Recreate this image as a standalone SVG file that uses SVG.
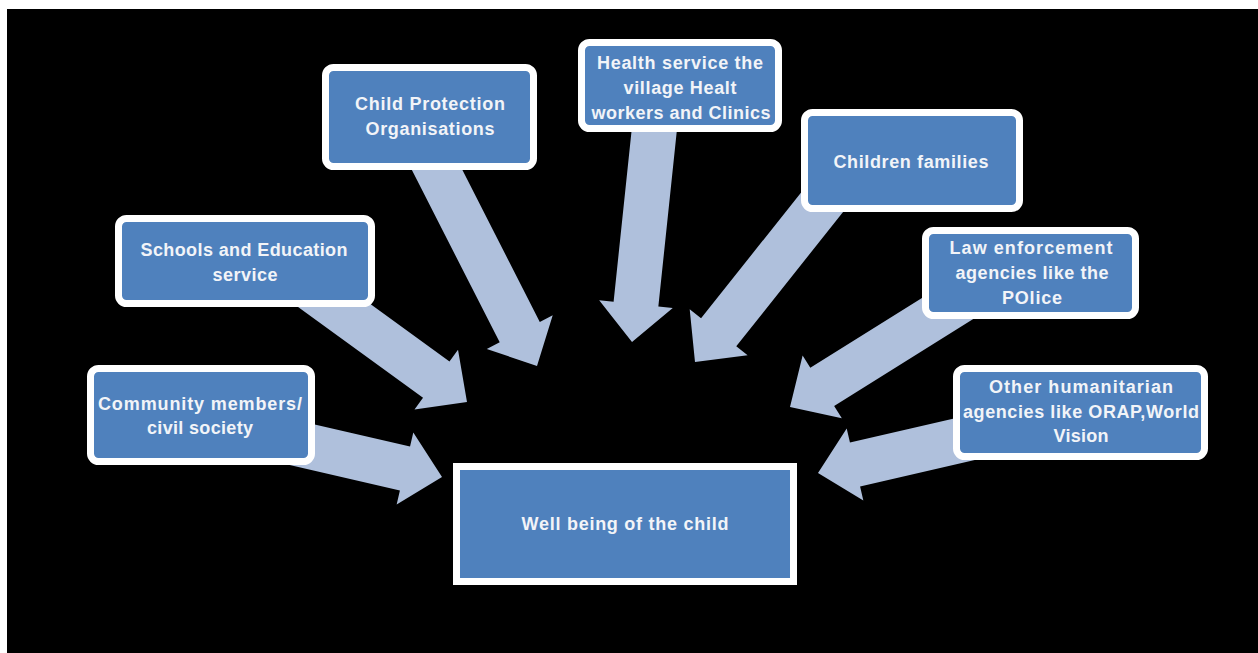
<svg xmlns="http://www.w3.org/2000/svg" xmlns:xlink="http://www.w3.org/1999/xlink" width="1258" height="653" viewBox="0 0 1258 653">
<style>
.box{fill:#4F81BD;stroke:#FFFFFF;stroke-width:7}
.t{font-family:"Liberation Sans",Arial,sans-serif;font-weight:bold;font-size:18px;fill:#F2F4F8;text-anchor:middle}
.arrow{fill:#AFC0DC}
</style>
<defs>
<polygon id="arr" points="-260,-22.5 -38,-22.5 -38,-37 0,0 -38,37 -38,22.5 -260,22.5"/>
</defs>
<rect x="0" y="0" width="1258" height="653" fill="#FFFFFF"/>
<rect x="7" y="9" width="1251" height="644" fill="#000000"/>
<g id="connectors" class="arrow">
<use href="#arr" transform="translate(442,477) rotate(13)"/>
<use href="#arr" transform="translate(467,402) rotate(36)"/>
<use href="#arr" transform="translate(537,366) rotate(63)"/>
<use href="#arr" transform="translate(632,342) rotate(96)"/>
<use href="#arr" transform="translate(695,362) rotate(128.5)"/>
<use href="#arr" transform="translate(790,407) rotate(148)"/>
<use href="#arr" transform="translate(818,473) rotate(167)"/>
</g>
<g id="community">
<rect class="box" x="90.5" y="368.5" width="221" height="93" rx="8"/>
<text class="t" x="200" y="410" textLength="204">Community members/</text>
<text class="t" x="200" y="434" textLength="106">civil society</text>
</g>
<g id="schools">
<rect class="box" x="118.5" y="218.5" width="253" height="85" rx="8"/>
<text class="t" x="244" y="256" textLength="207">Schools and Education</text>
<text class="t" x="245" y="281" textLength="65">service</text>
</g>
<g id="child-protection">
<rect class="box" x="325.5" y="67.5" width="208" height="99" rx="8"/>
<text class="t" x="430" y="110" textLength="150">Child Protection</text>
<text class="t" x="430" y="135" textLength="129">Organisations</text>
</g>
<g id="health">
<rect class="box" x="581.5" y="42.5" width="197" height="86" rx="8"/>
<text class="t" x="680" y="69" textLength="166">Health service the</text>
<text class="t" x="680" y="94" textLength="113">village Healt</text>
<text class="t" x="681" y="119" textLength="179">workers and Clinics</text>
</g>
<g id="children-families">
<rect class="box" x="804.5" y="112.5" width="215" height="96" rx="8"/>
<text class="t" x="911" y="168" textLength="155">Children families</text>
</g>
<g id="law">
<rect class="box" x="925.5" y="230.5" width="210" height="85" rx="8"/>
<text class="t" x="1031" y="254" textLength="163">Law enforcement</text>
<text class="t" x="1032" y="279" textLength="153">agencies like the</text>
<text class="t" x="1032" y="304" textLength="60">POlice</text>
</g>
<g id="other">
<rect class="box" x="956.5" y="368.5" width="248" height="88" rx="8"/>
<text class="t" x="1081" y="393" textLength="184">Other humanitarian</text>
<text class="t" x="1081" y="418" textLength="236">agencies like ORAP,World</text>
<text class="t" x="1081" y="442" textLength="55">Vision</text>
</g>
<g id="wellbeing">
<rect class="box" x="456.5" y="466.5" width="337" height="115"/>
<text class="t" x="625" y="530" textLength="207">Well being of the child</text>
</g>
</svg>
